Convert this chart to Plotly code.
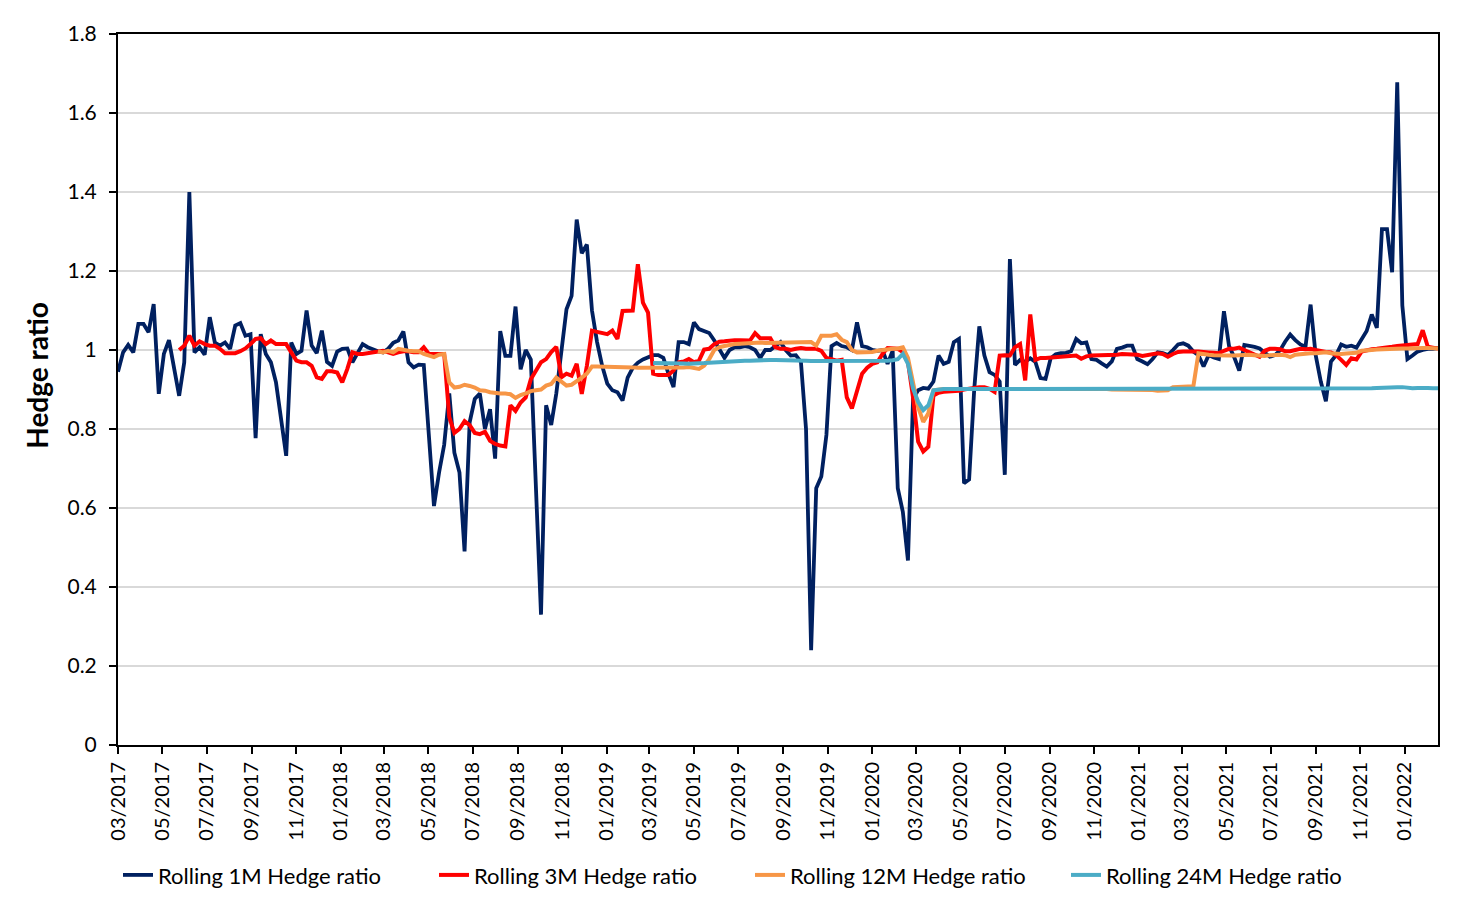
import pandas as pd
import plotly.graph_objects as go

# weekly observations, first one at the start of March 2017
dates = pd.date_range("2017-03-01", periods=260, freq="7D")

hedge_1m = [
    0.945, 0.994, 1.013, 0.994, 1.066, 1.066, 1.045, 1.116, 0.889, 0.99,
    1.025, 0.96, 0.884, 0.969, 1.40, 0.994, 1.007, 0.988, 1.083, 1.019,
    1.011, 1.019, 1.003, 1.062, 1.068, 1.036, 1.04, 0.777, 1.04, 0.99,
    0.969, 0.918, 0.825, 0.732, 1.019, 0.99, 0.998, 1.10, 1.011, 0.992,
    1.049, 0.97, 0.96, 0.996, 1.003, 1.004, 0.969, 0.99, 1.015, 1.007,
    1.001, 0.997, 0.994, 1.003, 1.018, 1.024, 1.047, 0.969, 0.956, 0.963,
    0.962, 0.78, 0.605, 0.69, 0.76, 0.89, 0.74, 0.69, 0.49, 0.817,
    0.876, 0.89, 0.80, 0.85, 0.725, 1.048, 0.985, 0.985, 1.11, 0.951,
    1.0, 0.976, 0.64, 0.33, 0.86, 0.81, 0.89, 0.994, 1.103, 1.137,
    1.33, 1.245, 1.267, 1.10, 1.02, 0.96, 0.915, 0.898, 0.893, 0.872,
    0.93, 0.955, 0.968, 0.976, 0.982, 0.987, 0.987, 0.98, 0.94, 0.906,
    1.02, 1.02, 1.015, 1.07, 1.053, 1.049, 1.043, 1.024, 1.0, 0.98,
    1.0, 1.007, 1.007, 1.01, 1.007, 1.0, 0.98, 1.0, 1.0, 1.01,
    1.02, 1.0, 0.986, 0.987, 0.97, 0.80, 0.24, 0.65, 0.68, 0.785,
    1.01, 1.018, 1.01, 1.007, 1.0, 1.07, 1.01, 1.007, 1.0, 0.998,
    1.0, 0.965, 0.998, 0.65, 0.59, 0.467, 0.877, 0.898, 0.904, 0.902,
    0.92, 0.986, 0.965, 0.97, 1.02, 1.028, 0.663, 0.672, 0.90, 1.06,
    0.986, 0.944, 0.937, 0.92, 0.684, 1.23, 0.962, 0.975, 0.97, 0.979,
    0.97, 0.929, 0.927, 0.979, 0.989, 0.992, 0.993, 0.997, 1.028, 1.017,
    1.019, 0.977, 0.975, 0.966, 0.958, 0.971, 1.003, 1.006, 1.011, 1.011,
    0.977, 0.971, 0.964, 0.977, 0.994, 0.992, 0.987, 1.0, 1.014, 1.017,
    1.011, 0.996, 0.987, 0.958, 0.987, 0.981, 0.977, 1.098, 1.01, 0.982,
    0.948, 1.013, 1.011, 1.008, 1.004, 0.994, 0.983, 0.987, 0.999, 1.021,
    1.039, 1.025, 1.014, 1.008, 1.115, 0.987, 0.92, 0.87, 0.971, 0.987,
    1.014, 1.008, 1.011, 1.006, 1.029, 1.048, 1.09, 1.056, 1.306, 1.306,
    1.197, 1.678, 1.113, 0.977, 0.986, 0.996, 1.0, 1.003, 1.003, 1.005,
]

# 3M starts at week 12
hedge_3m = [
    1.0, 1.011, 1.036, 1.011, 1.022, 1.015, 1.011, 1.011,
    1.003, 0.992, 0.992, 0.992, 0.997, 1.004, 1.015, 1.028, 1.03, 1.015,
    1.024, 1.015, 1.015, 1.015, 0.994, 0.973, 0.969, 0.969, 0.96, 0.931,
    0.927, 0.946, 0.946, 0.943, 0.918, 0.952, 0.994, 0.99, 0.99, 0.992,
    0.994, 0.994, 0.998, 0.994, 0.99, 0.994, 0.997, 0.997, 0.994, 0.994,
    1.007, 0.99, 0.99, 0.988, 0.99, 0.83, 0.79, 0.80, 0.82, 0.81,
    0.79, 0.787, 0.793, 0.77, 0.762, 0.758, 0.756, 0.86, 0.846, 0.867,
    0.88, 0.926, 0.95, 0.969, 0.977, 0.995, 1.008, 0.931, 0.94, 0.935,
    0.965, 0.889, 0.96, 1.049, 1.046, 1.044, 1.04, 1.049, 1.028, 1.099,
    1.10, 1.10, 1.217, 1.12, 1.095, 0.94, 0.937, 0.937, 0.937, 0.948,
    0.969, 0.971, 0.977, 0.969, 0.973, 1.001, 1.003, 1.015, 1.021, 1.022,
    1.024, 1.025, 1.025, 1.024, 1.024, 1.043, 1.03, 1.03, 1.03, 1.007,
    1.003, 1.003, 1.0, 1.003, 1.005, 1.003, 1.003, 1.003, 0.998, 0.98,
    0.977, 0.973, 0.975, 0.88, 0.852, 0.894, 0.94, 0.955, 0.965, 0.969,
    0.99, 1.005, 1.003, 1.003, 0.995, 0.97, 0.88, 0.768, 0.743, 0.755,
    0.885, 0.892, 0.894, 0.895, 0.895, 0.897, 0.90, 0.902, 0.906, 0.906,
    0.906, 0.902, 0.894, 0.986, 0.987, 0.986, 1.007, 1.015, 0.923, 1.09,
    0.975, 0.98, 0.98, 0.981, 0.981, 0.981, 0.982, 0.983, 0.986, 0.978,
    0.984, 0.986, 0.986, 0.987, 0.986, 0.987, 0.988, 0.99, 0.99, 0.989,
    0.988, 0.985, 0.987, 0.99, 0.992, 0.99, 0.983, 0.99, 0.995, 0.996,
    0.997, 0.996, 0.996, 0.996, 0.994, 0.993, 0.992, 0.998, 1.003, 1.003,
    1.006, 1.0, 0.995, 0.99, 0.983, 0.998, 1.003, 1.003, 1.002, 0.997,
    0.997, 1.0, 1.003, 1.002, 1.003, 1.0, 0.997, 0.995, 0.994, 0.987,
    0.975, 0.962, 0.979, 0.976, 0.996, 1.0, 1.002, 1.003, 1.004, 1.006,
    1.008, 1.01, 1.011, 1.012, 1.014, 1.015, 1.05, 1.008, 1.006, 1.004,
]

# 12M starts at week 51
hedge_12m = [
    0.997, 0.994, 0.998, 0.994, 1.003, 1.0, 0.998, 0.997, 0.997,
    0.99, 0.985, 0.982, 0.988, 0.99, 0.918, 0.905, 0.907, 0.912, 0.909,
    0.905, 0.898, 0.897, 0.893, 0.891, 0.89, 0.89, 0.888, 0.879, 0.886,
    0.89, 0.896, 0.898, 0.9, 0.91, 0.914, 0.93, 0.92, 0.91, 0.912,
    0.92, 0.93, 0.94, 0.958, 0.958, 0.958, 0.957, 0.957, 0.957, 0.956,
    0.956, 0.956, 0.955, 0.955, 0.955, 0.955, 0.955, 0.955, 0.954, 0.955,
    0.955, 0.956, 0.957, 0.955, 0.952, 0.96, 0.977, 1.0, 1.007, 1.01,
    1.013, 1.015, 1.016, 1.017, 1.019, 1.019, 1.019, 1.018, 1.018, 1.018,
    1.018, 1.019, 1.019, 1.02, 1.02, 1.02, 1.02, 1.011, 1.036, 1.036,
    1.036, 1.04, 1.026, 1.02, 1.0, 0.994, 0.994, 0.994, 0.995, 0.998,
    1.0, 1.003, 1.003, 1.004, 1.007, 0.98, 0.92, 0.855, 0.818, 0.84,
    0.898, 0.9, 0.901, 0.901, 0.901, 0.902, 0.902, 0.902, 0.902, 0.903,
    0.903, 0.903, 0.903, 0.903, 0.903, 0.903, 0.903, 0.903, 0.903, 0.903,
    0.903, 0.903, 0.903, 0.903, 0.903, 0.902, 0.902, 0.902, 0.902, 0.902,
    0.901, 0.901, 0.901, 0.901, 0.901, 0.9, 0.9, 0.9, 0.9, 0.9,
    0.9, 0.9, 0.9, 0.899, 0.897, 0.897, 0.898, 0.906, 0.907, 0.907,
    0.907, 0.908, 0.992, 0.989, 0.988, 0.987, 0.986, 0.987, 0.986, 0.986,
    0.987, 0.987, 0.988, 0.987, 0.986, 0.985, 0.987, 0.988, 0.988, 0.987,
    0.982, 0.988, 0.99, 0.991, 0.992, 0.992, 0.993, 0.994, 0.992, 0.99,
    0.99, 0.991, 0.992, 0.993, 0.998, 1.0, 1.0, 1.001, 1.002, 1.002,
    1.003, 1.004, 1.004, 1.004, 1.005, 1.005, 1.005, 1.005, 1.005, 1.004,
]

# 24M starts at week 105
hedge_24m = [
    0.967, 0.967, 0.968, 0.968, 0.967,
    0.966, 0.966, 0.965, 0.965, 0.966, 0.967, 0.968, 0.969, 0.97, 0.971,
    0.972, 0.972, 0.973, 0.973, 0.973, 0.974, 0.974, 0.974, 0.975, 0.975,
    0.975, 0.975, 0.973, 0.973, 0.973, 0.973, 0.972, 0.972, 0.972, 0.971,
    0.971, 0.971, 0.971, 0.971, 0.971, 0.971, 0.971, 0.972, 0.972, 0.972,
    0.973, 0.973, 0.974, 0.977, 0.99, 0.965, 0.902, 0.869, 0.848, 0.86,
    0.898, 0.9, 0.901, 0.901, 0.901, 0.901, 0.902, 0.902, 0.902, 0.902,
    0.902, 0.903, 0.903, 0.903, 0.903, 0.903, 0.903, 0.903, 0.903, 0.903,
    0.903, 0.903, 0.903, 0.903, 0.903, 0.903, 0.903, 0.903, 0.903, 0.903,
    0.903, 0.903, 0.903, 0.903, 0.903, 0.902, 0.902, 0.902, 0.902, 0.902,
    0.902, 0.901, 0.901, 0.901, 0.901, 0.901, 0.901, 0.901, 0.901, 0.901,
    0.901, 0.901, 0.901, 0.901, 0.901, 0.901, 0.901, 0.901, 0.901, 0.901,
    0.901, 0.901, 0.901, 0.901, 0.901, 0.901, 0.901, 0.901, 0.901, 0.901,
    0.901, 0.901, 0.901, 0.901, 0.901, 0.901, 0.901, 0.901, 0.901, 0.901,
    0.901, 0.901, 0.902, 0.902, 0.902, 0.902, 0.903, 0.904, 0.905, 0.906,
    0.906, 0.906, 0.906, 0.904, 0.903, 0.904, 0.905, 0.904, 0.903, 0.903,
]

series = [
    ("Rolling 1M Hedge ratio", hedge_1m, "#002060", 3.8),
    ("Rolling 3M Hedge ratio", hedge_3m, "#FF0000", 4),
    ("Rolling 12M Hedge ratio", hedge_12m, "#F79646", 4),
    ("Rolling 24M Hedge ratio", hedge_24m, "#4BACC6", 4),
]

FONT = "Lato, 'Open Sans', sans-serif"

fig = go.Figure()
for name, vals, color, width in series:
    x = dates[len(dates) - len(vals):]
    fig.add_trace(go.Scatter(x=x, y=vals, name=name, mode="lines",
                             line=dict(color=color, width=width)))

fig.update_layout(
    width=1464, height=911,
    margin=dict(l=110, r=34, t=19, b=174),
    plot_bgcolor="white", paper_bgcolor="white",
    font=dict(family=FONT, size=20, color="black"),
    showlegend=True,
    legend=dict(orientation="h", x=0.0, xanchor="left", y=-0.183, yanchor="middle",
                font=dict(size=22), entrywidth=271, entrywidthmode="pixels"),
)
# axis title placed as an annotation so it sits a little above centre like the original
fig.add_annotation(text="<b>Hedge ratio</b>", textangle=-90, showarrow=False,
                   xref="paper", yref="paper", x=-0.061, y=0.52,
                   xanchor="center", yanchor="middle", font=dict(size=28))
fig.update_xaxes(
    type="date", range=[dates[0], dates[-1]],
    tick0="2017-03-01", dtick="M2", tickformat="%m/%Y", tickangle=-90,
    ticks="outside", ticklen=7, tickwidth=2, tickcolor="black",
    showline=True, linecolor="black", linewidth=2, mirror=True,
    showgrid=False, zeroline=False,
)
fig.update_yaxes(
    range=[0, 1.8], dtick=0.2,
    ticks="outside", ticklen=7, tickwidth=2, tickcolor="black",
    ticklabelstandoff=8, tickfont=dict(size=21),
    showline=True, linecolor="black", linewidth=2, mirror=True,
    showgrid=True, gridcolor="#D9D9D9", gridwidth=1.5, zeroline=False,
)

fig.write_html("out.html")
